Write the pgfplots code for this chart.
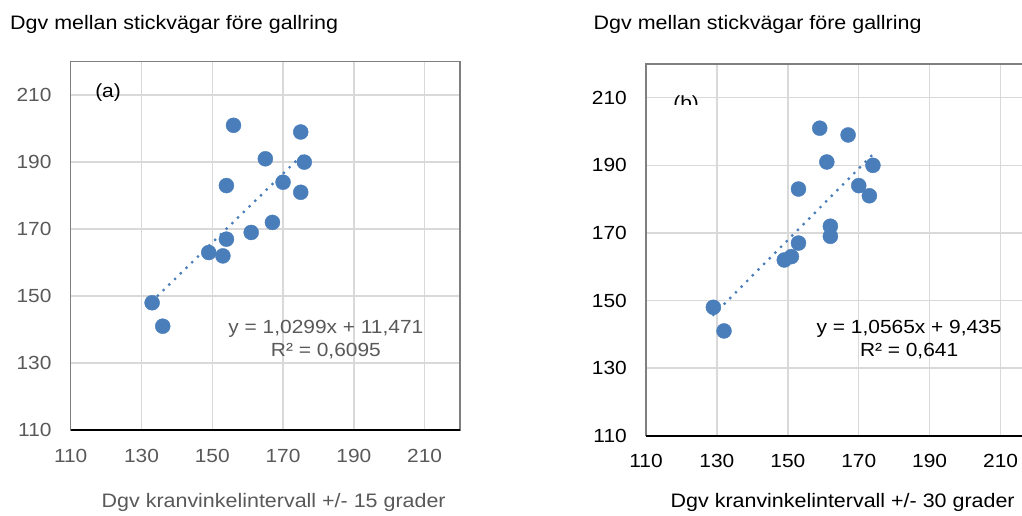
\documentclass[border=0pt]{standalone}
\usepackage{fontspec}
\setmainfont{Liberation Sans}[FakeStretch=1.1]
\usepackage{pgfplots}
\pgfplotsset{compat=1.18}

\definecolor{dotblue}{HTML}{4A7EBB}
\definecolor{gridgray}{HTML}{D9D9D9}
\definecolor{txtgray}{HTML}{595959}
\definecolor{framegray}{HTML}{7F7F7F}

\newcommand{\chartfont}{\fontsize{19bp}{23bp}\selectfont}
\newcommand{\titlefont}{\fontsize{19.5bp}{23bp}\selectfont}

\pgfplotsset{
  panel/.style={
    scale only axis,
    xmin=110, xmax=220, ymin=110, ymax=220,
    xtick={110,130,...,210}, ytick={110,130,...,210},
    major tick length=0pt,
    grid=major,
    major grid style={draw=gridgray, line width=1.4bp},
    axis line style={draw=framegray, line width=1.2bp},
    /pgf/number format/assume math mode=true,
    ticklabel style={font=\chartfont, inner sep=0pt},
    xticklabel style={anchor=center, yshift=-25.5bp},
    yticklabel style={anchor=east, xshift=-19bp},
    clip=false,
  },
  pts/.style={only marks, mark=*, mark size=7.5bp,
    mark options={draw=dotblue, fill=dotblue}},
  trend/.style={dotblue, line width=3.2bp, line cap=round,
    dash pattern=on 0bp off 8bp},
}

% Dgv +/- 15 grader (x) mot Dgv mellan stickvägar (y)
\pgfplotstableread{
x   y
133 148
136 141
149 163
153 162
154 167
154 183
156 201
161 169
165 191
167 172
170 184
175 199
176 190
175 181
}\dataA

% Dgv +/- 30 grader (x) mot Dgv mellan stickvägar (y)
\pgfplotstableread{
x   y
129 148
132 141
149 162
151 163
153 167
153 183
159 201
161 191
162 172
162 169
167 199
170 184
173 181
174 190
}\dataB

\begin{document}
\begin{tikzpicture}[x=1bp, y=1bp, font=\chartfont]
\clip (0,0) rectangle (1022,516);

% rubriker
\node[anchor=base west, inner sep=0pt, font=\titlefont] at (10,486) {Dgv mellan stickvägar före gallring};
\node[anchor=base west, inner sep=0pt, font=\titlefont] at (593.5,486) {Dgv mellan stickvägar före gallring};

% (a)
\begin{axis}[panel, at={(70.7bp,86bp)}, anchor=south west,
  width=389.3bp, height=368.3bp,
  ticklabel style={text=txtgray}]
  \addplot[pts] table {\dataA};
  \addplot[trend] coordinates {(133,148.45) (176,192.73)};
  \draw[black, line width=2bp] (rel axis cs:0,0) -- (rel axis cs:1,0);
  \node[anchor=base, text=txtgray] at (axis cs:182.1,138.9) {y = 1,0299x + 11,471};
  \node[anchor=base, text=txtgray] at (axis cs:182.1,131.9) {R² = 0,6095};
  \node[anchor=base, inner sep=0pt] at (axis cs:120.55,209.4) {(a)};
\end{axis}
\node[anchor=base west, inner sep=0pt, text=txtgray, font=\titlefont] at (101.5,8.5) {Dgv kranvinkelintervall +/- 15 grader};

% (b)
\begin{axis}[panel, at={(646bp,80.3bp)}, anchor=south west,
  width=390bp, height=371.7bp,
  ticklabel style={text=black}]
  \addplot[pts] table {\dataB};
  \addplot[trend] coordinates {(129,145.72) (174,193.27)};
  \draw[black, line width=2bp] (rel axis cs:0,0) -- (rel axis cs:1,0);
  \node[anchor=base] at (axis cs:184.2,140.35) {y = 1,0565x + 9,435};
  \node[anchor=base] at (axis cs:184.2,133.4) {R² = 0,641};
  \coordinate (blab) at (axis cs:121.3,206.65);
\end{axis}
\begin{scope}
  \clip ([shift={(-20bp,5bp)}]blab) rectangle ([shift={(20bp,30bp)}]blab);
  \node[anchor=base, inner sep=0pt] at (blab) {(b)};
\end{scope}
\node[anchor=base west, inner sep=0pt, font=\titlefont] at (670.5,8.5) {Dgv kranvinkelintervall +/- 30 grader};
\end{tikzpicture}
\end{document}
